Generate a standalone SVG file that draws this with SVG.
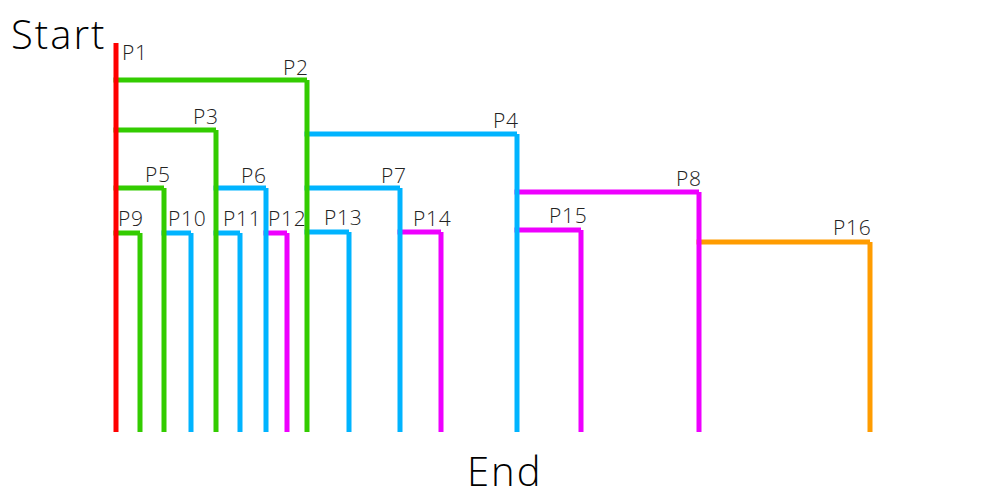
<svg xmlns="http://www.w3.org/2000/svg" width="1000" height="500" viewBox="0 0 1000 500">
<style>
line{stroke-width:5;stroke-linecap:square;fill:none}
.r{stroke:#FF0000}.g{stroke:#33CC00}.b{stroke:#00B4FF}.m{stroke:#EE00FF}.o{stroke:#FF9C00}
.lbl{font-family:"Open Sans","Liberation Sans",sans-serif;font-weight:300;font-size:21px;letter-spacing:0.8px;fill:#222}
.big{font-family:"Open Sans","Liberation Sans",sans-serif;font-weight:300;font-size:40px;letter-spacing:2px;fill:#000}
</style>
<rect width="1000" height="500" fill="#fff"/>
<text class="big" x="11" y="49">Start</text>
<text class="big" x="467" y="486">End</text>
<g id="connectors">
<line class="g" x1="116" y1="80" x2="304.5" y2="80"/>
<line class="g" x1="116" y1="130" x2="213.5" y2="130"/>
<line class="g" x1="116" y1="188" x2="161.5" y2="188"/>
<line class="g" x1="116" y1="233" x2="137.5" y2="233"/>
<line class="b" x1="164" y1="233" x2="188.5" y2="233"/>
<line class="b" x1="216" y1="233" x2="237.5" y2="233"/>
<line class="b" x1="216" y1="188" x2="263.5" y2="188"/>
<line class="m" x1="266" y1="233" x2="284.5" y2="233"/>
<line class="b" x1="307" y1="134" x2="514.5" y2="134"/>
<line class="b" x1="307" y1="188" x2="397.5" y2="188"/>
<line class="b" x1="307" y1="232" x2="346.5" y2="232"/>
<line class="m" x1="400" y1="232" x2="438.5" y2="232"/>
<line class="m" x1="517" y1="230" x2="578.5" y2="230"/>
<line class="m" x1="517" y1="192" x2="696.5" y2="192"/>
<line class="o" x1="699" y1="242" x2="867.5" y2="242"/>
</g>
<g id="P16"><line class="o" x1="870" y1="244.5" x2="870" y2="429.5"/><text class="lbl" x="833" y="235">P16</text></g>
<g id="P15"><line class="m" x1="581" y1="232.5" x2="581" y2="429.5"/><text class="lbl" x="549" y="223">P15</text></g>
<g id="P14"><line class="m" x1="441" y1="234.5" x2="441" y2="429.5"/><text class="lbl" x="413" y="226">P14</text></g>
<g id="P13"><line class="b" x1="349" y1="234.5" x2="349" y2="429.5"/><text class="lbl" x="324" y="225">P13</text></g>
<g id="P12"><line class="m" x1="287" y1="235.5" x2="287" y2="429.5"/><text class="lbl" x="268" y="226">P12</text></g>
<g id="P11"><line class="b" x1="240" y1="235.5" x2="240" y2="429.5"/><text class="lbl" x="223" y="226">P11</text></g>
<g id="P10"><line class="b" x1="191" y1="235.5" x2="191" y2="429.5"/><text class="lbl" x="168" y="226">P10</text></g>
<g id="P9"><line class="g" x1="140" y1="235.5" x2="140" y2="429.5"/><text class="lbl" x="118" y="226">P9</text></g>
<g id="P8"><line class="m" x1="699" y1="194.5" x2="699" y2="429.5"/><text class="lbl" x="676" y="186">P8</text></g>
<g id="P7"><line class="b" x1="400" y1="190.5" x2="400" y2="429.5"/><text class="lbl" x="381" y="183">P7</text></g>
<g id="P6"><line class="b" x1="266" y1="190.5" x2="266" y2="429.5"/><text class="lbl" x="241" y="183">P6</text></g>
<g id="P5"><line class="g" x1="164" y1="190.5" x2="164" y2="429.5"/><text class="lbl" x="145" y="182">P5</text></g>
<g id="P4"><line class="b" x1="517" y1="136.5" x2="517" y2="429.5"/><text class="lbl" x="493" y="128">P4</text></g>
<g id="P3"><line class="g" x1="216" y1="132.5" x2="216" y2="429.5"/><text class="lbl" x="193" y="124">P3</text></g>
<g id="P2"><line class="g" x1="307" y1="82.5" x2="307" y2="429.5"/><text class="lbl" x="283" y="75">P2</text></g>
<g id="P1"><line class="r" x1="116" y1="45.5" x2="116" y2="429.5"/><text class="lbl" x="122" y="60">P1</text></g>
</svg>
